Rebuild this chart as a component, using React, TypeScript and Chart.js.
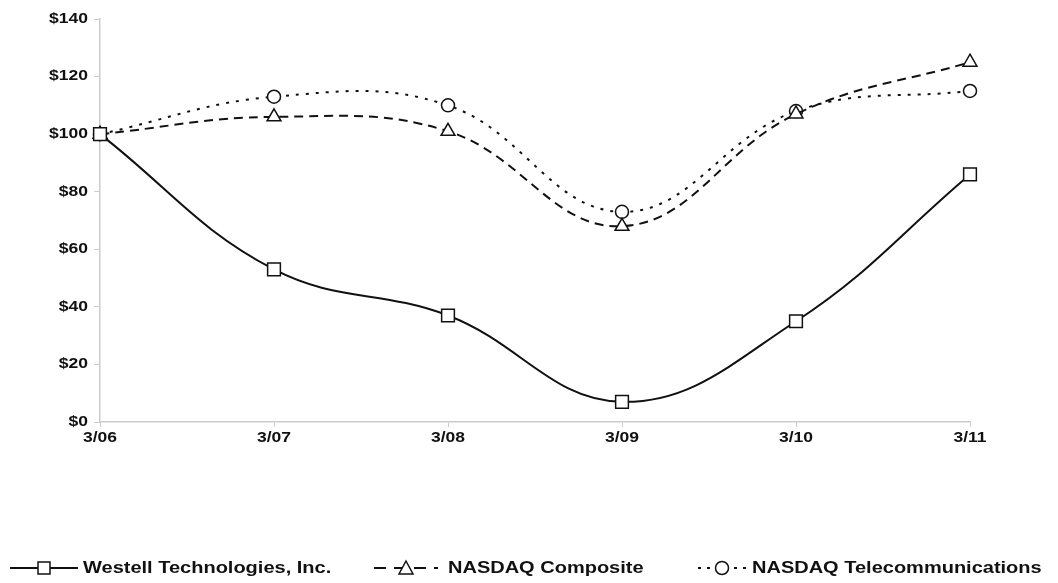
import React, { useEffect, useRef } from "react";
import { Chart, registerables } from "chart.js";

Chart.register(...registerables);

const categories = ["3/06", "3/07", "3/08", "3/09", "3/10", "3/11"];
const westell = [100, 53, 37, 7, 35, 86];
const nasdaqComposite = [100, 106, 101, 68, 107, 125];
const nasdaqTelecom = [100, 113, 110, 73, 108, 115];
const seriesNames = ["Westell Technologies, Inc.", "NASDAQ Composite", "NASDAQ Telecommunications"];

const FONT = "'Liberation Sans', Arial, sans-serif";
const TICK_SIZE = 14;
const TICK_SX = 1.25;
const LEG_SIZE = 16;
const LEG_SX = 1.25;

function stretchedText(ctx: any, text: string, x: number, y: number, align: string, sx: number) {
  const w = ctx.measureText(text).width * sx;
  let left = x;
  if (align === "right") left = x - w;
  else if (align === "center") left = x - w / 2;
  ctx.save();
  ctx.translate(left, y);
  ctx.scale(sx, 1);
  ctx.textAlign = "left";
  ctx.fillText(text, 0, 0);
  ctx.restore();
}

const tickLabelPlugin = {
  id: "stretchedTicks",
  afterDraw(chart: any) {
    const ctx = chart.ctx;
    ctx.save();
    ctx.fillStyle = "#111";
    ctx.font = `bold ${TICK_SIZE}px ${FONT}`;
    ctx.textBaseline = "middle";
    const ys = chart.scales.y;
    ys.ticks.forEach((t: any, i: number) => {
      const py = ys.getPixelForTick(i);
      stretchedText(ctx, "$" + t.value, ys.right - 12, py, "right", TICK_SX);
    });
    const xs = chart.scales.x;
    xs.ticks.forEach((t: any, i: number) => {
      const px = xs.getPixelForTick(i);
      stretchedText(ctx, categories[i], px, xs.top + 16, "center", TICK_SX);
    });
    ctx.restore();
  },
};

const legendPlugin = {
  id: "customLegend",
  afterDraw(chart: any) {
    const ctx = chart.ctx;
    const y = 568;
    const items = [
      { x0: 10, x1: 78, dash: [] as number[], style: "rect", tx: 83, label: seriesNames[0] },
      { x0: 374, x1: 438, dash: [12, 8], style: "triangle", tx: 448, label: seriesNames[1] },
      { x0: 698, x1: 746, dash: [3, 6], style: "circle", tx: 752, label: seriesNames[2] },
    ];
    ctx.save();
    for (const it of items) {
      ctx.strokeStyle = "#111";
      ctx.lineWidth = 2;
      ctx.setLineDash(it.dash);
      ctx.beginPath();
      ctx.moveTo(it.x0, y);
      ctx.lineTo(it.x1, y);
      ctx.stroke();
      ctx.setLineDash([]);
      const cx = (it.x0 + it.x1) / 2;
      ctx.fillStyle = "#fff";
      ctx.lineWidth = 1.5;
      ctx.beginPath();
      if (it.style === "rect") {
        ctx.rect(cx - 6, y - 6, 12, 12);
      } else if (it.style === "triangle") {
        ctx.moveTo(cx, y - 7);
        ctx.lineTo(cx + 7, y + 6);
        ctx.lineTo(cx - 7, y + 6);
        ctx.closePath();
      } else {
        ctx.arc(cx, y, 6.5, 0, Math.PI * 2);
      }
      ctx.fill();
      ctx.stroke();
      ctx.fillStyle = "#111";
      ctx.font = `bold ${LEG_SIZE}px ${FONT}`;
      ctx.textBaseline = "middle";
      stretchedText(ctx, it.label, it.tx, y + 1, "left", LEG_SX);
    }
    ctx.restore();
  },
};

export default function App() {
  const ref = useRef<HTMLCanvasElement | null>(null);
  useEffect(() => {
    document.body.style.margin = "0";
    const canvas = ref.current!;
    const pointCommon = {
      borderColor: "#111",
      borderWidth: 2,
      pointBackgroundColor: "#fff",
      pointBorderColor: "#111",
      pointBorderWidth: 1.5,
      tension: 0.4,
    };
    const chart = new Chart(canvas, {
      type: "line",
      data: {
        labels: categories,
        datasets: [
          { ...pointCommon, label: seriesNames[0], data: westell, pointStyle: "rect", pointRadius: 9 },
          { ...pointCommon, label: seriesNames[1], data: nasdaqComposite, borderDash: [9, 6], pointStyle: "triangle", pointRadius: 8 },
          { ...pointCommon, label: seriesNames[2], data: nasdaqTelecom, borderDash: [3, 7], pointStyle: "circle", pointRadius: 6.5 },
        ],
      },
      options: {
        animation: false,
        responsive: false,
        maintainAspectRatio: false,
        layout: { padding: { left: 0, right: 88, top: 19, bottom: 0 } },
        plugins: { legend: { display: false }, tooltip: { enabled: false } },
        scales: {
          x: {
            offset: false,
            grid: { display: true, drawOnChartArea: false, color: "#ccc", tickLength: 5 },
            border: { color: "#ccc", width: 1.5 },
            ticks: { display: false },
            afterFit(scale: any) {
              scale.height = 161;
            },
          },
          y: {
            min: 0,
            max: 140,
            ticks: { display: false, stepSize: 20 },
            grid: { display: true, drawOnChartArea: false, color: "#ccc", tickLength: 6 },
            border: { color: "#ccc", width: 1.5 },
            afterFit(scale: any) {
              scale.width = 100;
            },
          },
        },
      },
      plugins: [tickLabelPlugin, legendPlugin],
    });
    return () => chart.destroy();
  }, []);
  return (
    <div style={{ width: 1058, height: 583, background: "#fff" }}>
      <canvas ref={ref} width={1058} height={583} style={{ width: 1058, height: 583, display: "block" }} />
    </div>
  );
}
